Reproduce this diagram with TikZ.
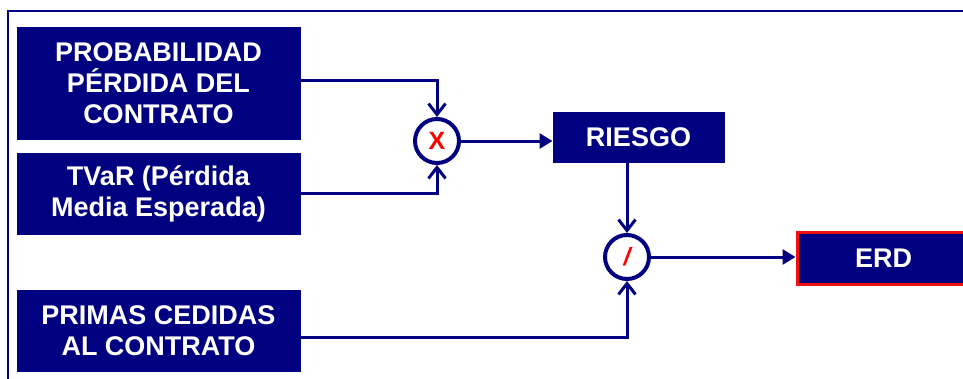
\documentclass[tikz,border=0pt]{standalone}
\usepackage{fontspec}
\setmainfont{Liberation Sans}
\usetikzlibrary{arrows.meta}
\definecolor{navy}{HTML}{000080}
\definecolor{erdred}{HTML}{F01010}
\begin{document}
\begin{tikzpicture}[x=1pt,y=-1pt,
  box/.style={draw=navy, fill=navy, text=white, font=\bfseries\fontsize{27}{31}\selectfont,
    align=center, inner sep=0pt, line width=1pt},
  opnode/.style={circle, draw=navy, fill=white, line width=4pt, minimum size=44pt, inner sep=0pt,
    text=red, font=\bfseries\fontsize{25}{27}\selectfont},
  conn/.style={draw=navy, line width=3pt},
  vtip/.style={-{Straight Barb[length=11pt,width=17pt,line width=3pt]}},
  ftip/.style={-{Triangle[length=13pt,width=15pt]}}]
\clip (0,0) rectangle (963,378);
\useasboundingbox (0,0) rectangle (963,378);
\fill[white] (0,0) rectangle (963,378);
\draw[navy, line width=2.4pt] (8,380) -- (8,11) -- (965,11);
\node[box, minimum width=283pt, minimum height=112pt] (b1) at (158.5,83) {PROBABILIDAD\\P\'ERDIDA DEL\\CONTRATO};
\node[box, minimum width=283pt, minimum height=81pt] (b2) at (158.5,193.5) {TVaR (P\'erdida\\Media Esperada)};
\node[box, minimum width=283pt, minimum height=81pt] (b3) at (158.5,330.5) {PRIMAS CEDIDAS\\AL CONTRATO};
\node[box, minimum width=171pt, minimum height=50pt] (r) at (638.5,137) {RIESGO};
\node[box, draw=erdred, line width=3pt, minimum width=173pt, minimum height=52pt] (e) at (883.5,258) {ERD};
\node[opnode] (mx) at (437,141) {X};
\node[opnode] (md) at (627,257) {\itshape /};
\draw[conn, vtip] ([yshift=3pt]b1.east) -| (mx.north);
\draw[conn, vtip] (b2.east) -| (mx.south);
\draw[conn, ftip] (mx.east) -- (mx -| r.west);
\draw[conn, vtip] (r.south -| md) -- (md.north);
\draw[conn, vtip] ([yshift=-7pt]b3.east) -| (md.south);
\draw[conn, ftip] (md.east) -- (md -| e.west);
\end{tikzpicture}
\end{document}
